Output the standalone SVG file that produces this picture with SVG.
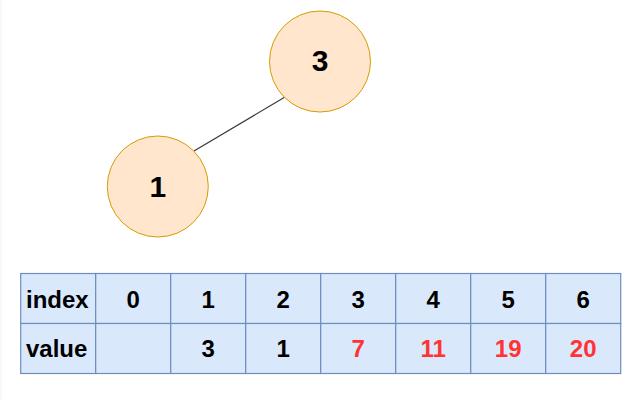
<svg xmlns="http://www.w3.org/2000/svg" width="640" height="400" viewBox="0 0 640 400">
<style>
.node circle{fill:#ffe6cc;stroke:#d79b00;stroke-width:1}
.node text{font-family:"Liberation Sans",Arial,sans-serif;font-weight:bold;font-size:30px;fill:#000;text-anchor:middle}
.cell{fill:#dae8fc;stroke:#6c8ebf;stroke-width:1.2}
.t{font-family:"Liberation Sans",Arial,sans-serif;font-weight:bold;font-size:24px;fill:#000;text-anchor:middle}
.lbl{text-anchor:start}
.red{fill:#ff3333}
</style>
<rect width="640" height="400" fill="#ffffff"/>
<line x1="1" y1="0" x2="1" y2="400" stroke="#f2f2f2" stroke-width="1"/>
<g id="connectors">
<line x1="285" y1="97" x2="194" y2="151" stroke="#36393d" stroke-width="1.2"/>
</g>
<g id="node-3" class="node">
<circle cx="320" cy="61.5" r="50.5"/>
<text x="320" y="71">3</text>
</g>
<g id="node-1" class="node">
<circle cx="157.8" cy="186.5" r="50.5"/>
<text x="157.8" y="197">1</text>
</g>
<g id="table">
<rect class="cell" x="20.7" y="273.5" width="75" height="50"/>
<rect class="cell" x="95.7" y="273.5" width="75" height="50"/>
<rect class="cell" x="170.7" y="273.5" width="75" height="50"/>
<rect class="cell" x="245.7" y="273.5" width="75" height="50"/>
<rect class="cell" x="320.7" y="273.5" width="75" height="50"/>
<rect class="cell" x="395.7" y="273.5" width="75" height="50"/>
<rect class="cell" x="470.7" y="273.5" width="75" height="50"/>
<rect class="cell" x="545.7" y="273.5" width="75" height="50"/>
<rect class="cell" x="20.7" y="323.5" width="75" height="50"/>
<rect class="cell" x="95.7" y="323.5" width="75" height="50"/>
<rect class="cell" x="170.7" y="323.5" width="75" height="50"/>
<rect class="cell" x="245.7" y="323.5" width="75" height="50"/>
<rect class="cell" x="320.7" y="323.5" width="75" height="50"/>
<rect class="cell" x="395.7" y="323.5" width="75" height="50"/>
<rect class="cell" x="470.7" y="323.5" width="75" height="50"/>
<rect class="cell" x="545.7" y="323.5" width="75" height="50"/>
<text class="t lbl" x="26" y="307.5">index</text>
<text class="t" x="133.2" y="307.5">0</text>
<text class="t" x="208.2" y="307.5">1</text>
<text class="t" x="283.2" y="307.5">2</text>
<text class="t" x="358.2" y="307.5">3</text>
<text class="t" x="433.2" y="307.5">4</text>
<text class="t" x="508.2" y="307.5">5</text>
<text class="t" x="583.2" y="307.5">6</text>
<text class="t lbl" x="26" y="357">value</text>
<text class="t" x="208.2" y="357">3</text>
<text class="t" x="283.2" y="357">1</text>
<text class="t red" x="358.2" y="357">7</text>
<text class="t red" x="433.2" y="357">11</text>
<text class="t red" x="508.2" y="357">19</text>
<text class="t red" x="583.2" y="357">20</text>
</g>
</svg>
